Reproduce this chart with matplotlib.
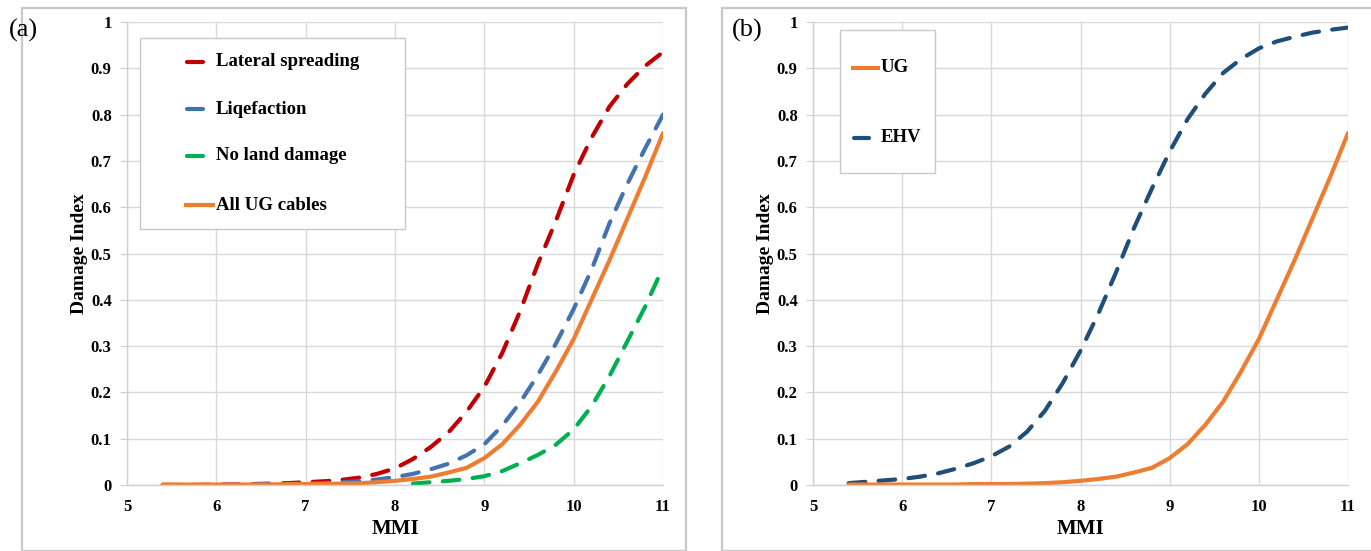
import numpy as np
import matplotlib
matplotlib.use("Agg")
import matplotlib.pyplot as plt
from matplotlib.patches import Rectangle
from matplotlib.lines import Line2D

# ---------------------------------------------------------------- data
mmi = [5.4, 5.6, 5.8, 6.0, 6.2, 6.4, 6.6, 6.8, 7.0, 7.2, 7.4, 7.6, 7.8, 8.0, 8.2,
       8.4, 8.6, 8.8, 9.0, 9.2, 9.4, 9.6, 9.8, 10.0, 10.2, 10.4, 10.6, 10.8, 11.0]

lateral = [0.000, 0.000, 0.000, 0.001, 0.001, 0.002, 0.003, 0.004, 0.006, 0.008, 0.011,
           0.016, 0.024, 0.036, 0.056, 0.082, 0.114, 0.158, 0.212, 0.285, 0.375, 0.478,
           0.570, 0.670, 0.750, 0.817, 0.866, 0.905, 0.935]
liq = [0.000, 0.000, 0.000, 0.000, 0.001, 0.001, 0.002, 0.002, 0.003, 0.004, 0.006,
       0.008, 0.012, 0.017, 0.024, 0.034, 0.046, 0.064, 0.088, 0.128, 0.178, 0.238,
       0.305, 0.380, 0.465, 0.565, 0.650, 0.727, 0.800]
ug = [0.001, 0.001, 0.001, 0.001, 0.001, 0.001, 0.001, 0.002, 0.002, 0.002, 0.003,
      0.004, 0.006, 0.009, 0.013, 0.018, 0.027, 0.037, 0.058, 0.088, 0.130, 0.180,
      0.245, 0.315, 0.400, 0.485, 0.575, 0.665, 0.760]
ehv = [0.004, 0.007, 0.010, 0.013, 0.018, 0.025, 0.035, 0.047, 0.062, 0.083, 0.115,
       0.160, 0.220, 0.290, 0.370, 0.460, 0.555, 0.640, 0.720, 0.790, 0.845, 0.890,
       0.920, 0.943, 0.958, 0.968, 0.977, 0.983, 0.988]

mmi_green = [8.2, 8.4, 8.6, 8.8, 9.0, 9.2, 9.4, 9.6, 9.8, 10.0, 10.2, 10.4, 10.6, 10.8, 11.0]
no_land = [0.003, 0.006, 0.009, 0.013, 0.019, 0.030, 0.047, 0.065, 0.087, 0.120, 0.170,
           0.235, 0.310, 0.385, 0.470]

x_ticks = [5, 6, 7, 8, 9, 10, 11]
y_ticks = [0, 0.1, 0.2, 0.3, 0.4, 0.5, 0.6, 0.7, 0.8, 0.9, 1.0]
y_ticklabels = ["0", "0.1", "0.2", "0.3", "0.4", "0.5", "0.6", "0.7", "0.8", "0.9", "1"]

RED, BLUE, GREEN, ORANGE, NAVY = "#C00000", "#4472B0", "#00B050", "#ED7D31", "#1F4E79"
SERIF = ["Liberation Serif", "DejaVu Serif"]
LW = 3.0
DASH = (4.0, 3.2)

W, H = 1371, 551
fig = plt.figure(figsize=(W / 100, H / 100), dpi=100)

# light grey frames around each panel (pixel coords -> figure coords)
for x0, y0, x1 in [(22, 8, 686), (722, 8, 1375)]:
    fig.patches.append(Rectangle((x0 / W, 0), (x1 - x0) / W, 1 - y0 / H, transform=fig.transFigure,
                                 fill=False, ec="#c8c8c8", lw=1.6))


def style(ax):
    ax.set_xlim(5, 11)
    ax.set_ylim(0, 1)
    ax.set_xticks(x_ticks)
    ax.set_yticks(y_ticks)
    ax.set_yticklabels(y_ticklabels)
    ax.grid(True, color="#d9d9d9", lw=1.0)
    ax.set_axisbelow(True)
    for s in ["top", "right"]:
        ax.spines[s].set_visible(False)
    for s in ["left", "bottom"]:
        ax.spines[s].set_color("#d0d0d0")
        ax.spines[s].set_linewidth(1.0)
    ax.tick_params(axis="y", length=5, color="#d0d0d0", pad=6)
    ax.tick_params(axis="x", length=0, pad=10)
    for lab in ax.get_xticklabels() + ax.get_yticklabels():
        lab.set_fontfamily(SERIF)
        lab.set_fontweight("bold")
        lab.set_fontsize(12)
    ax.set_xlabel("MMI", fontfamily=SERIF, fontweight="bold", fontsize=15, labelpad=3)
    ax.set_ylabel("Damage Index", fontfamily=SERIF, fontweight="bold", fontsize=14, labelpad=2)


def manual_legend(ax, box, entries):
    # box / entry positions given in axes fraction
    x0, y0, x1, y1 = box
    ax.add_patch(Rectangle((x0, y1), x1 - x0, y0 - y1, transform=ax.transAxes,
                           fc="white", ec="#c8c8c8", lw=1.0, zorder=5))
    for hx0, hx1, ty, tx, color, dashed, label in entries:
        ln = Line2D([hx0, hx1], [ty, ty], transform=ax.transAxes, color=color, lw=LW,
                    solid_capstyle="round" if dashed else "butt", zorder=6)
        ax.add_line(ln)
        ax.text(tx, ty, label, transform=ax.transAxes, va="center", ha="left",
                fontfamily=SERIF, fontweight="bold", fontsize=13.5, zorder=6)


def ax_frac(ax_left, ax_w, X, Y):
    return (X - ax_left) / ax_w, (485 - Y) / 463


# ---------------------------------------------------------------- panel (a)
axa = fig.add_axes([127 / W, 1 - 485 / H, 536 / W, 463 / H])
style(axa)
axa.plot(mmi, lateral, color=RED, lw=LW, dashes=DASH, dash_capstyle="round", label="Lateral spreading")
axa.plot(mmi, liq, color=BLUE, lw=LW, dashes=DASH, dash_capstyle="round", label="Liqefaction")
axa.plot(mmi_green, no_land, color=GREEN, lw=LW, dashes=DASH, dash_capstyle="round", label="No land damage")
axa.plot(mmi, ug, color=ORANGE, lw=LW, solid_capstyle="round", label="All UG cables")

fa = lambda X, Y: ax_frac(127, 536, X, Y)
bx0, by0 = fa(140, 38)
bx1, by1 = fa(405, 229)
rows = [(62, RED, True, "Lateral spreading"), (109, BLUE, True, "Liqefaction"),
        (156, GREEN, True, "No land damage"), (205, ORANGE, False, "All UG cables")]
ents = []
for Y, c, d, lab in rows:
    h0 = fa(187 if d else 184, Y)[0]
    h1 = fa(203 if d else 215, Y)[0]
    ents.append((h0, h1, fa(0, Y)[1], fa(216, Y)[0], c, d, lab))
manual_legend(axa, (bx0, by0, bx1, by1), ents)
fig.text(9 / W, 1 - 30 / H, "(a)", fontfamily=SERIF, fontsize=19, va="center", ha="left")

# ---------------------------------------------------------------- panel (b)
axb = fig.add_axes([813 / W, 1 - 485 / H, 535 / W, 463 / H])
style(axb)
axb.plot(mmi, ehv, color=NAVY, lw=LW, dashes=DASH, dash_capstyle="round", label="EHV")
axb.plot(mmi, ug, color=ORANGE, lw=LW, solid_capstyle="round", label="UG")

fb = lambda X, Y: ax_frac(813, 535, X, Y)
bx0, by0 = fb(840, 30)
bx1, by1 = fb(935, 173)
ents = [(fb(851, 68)[0], fb(880, 68)[0], fb(0, 68)[1], fb(881, 68)[0], ORANGE, False, "UG"),
        (fb(854, 138)[0], fb(869, 138)[0], fb(0, 138)[1], fb(881, 138)[0], NAVY, True, "EHV")]
manual_legend(axb, (bx0, by0, bx1, by1), ents)
fig.text(732 / W, 1 - 30 / H, "(b)", fontfamily=SERIF, fontsize=19, va="center", ha="left")

fig.savefig("out.png", dpi=100)
